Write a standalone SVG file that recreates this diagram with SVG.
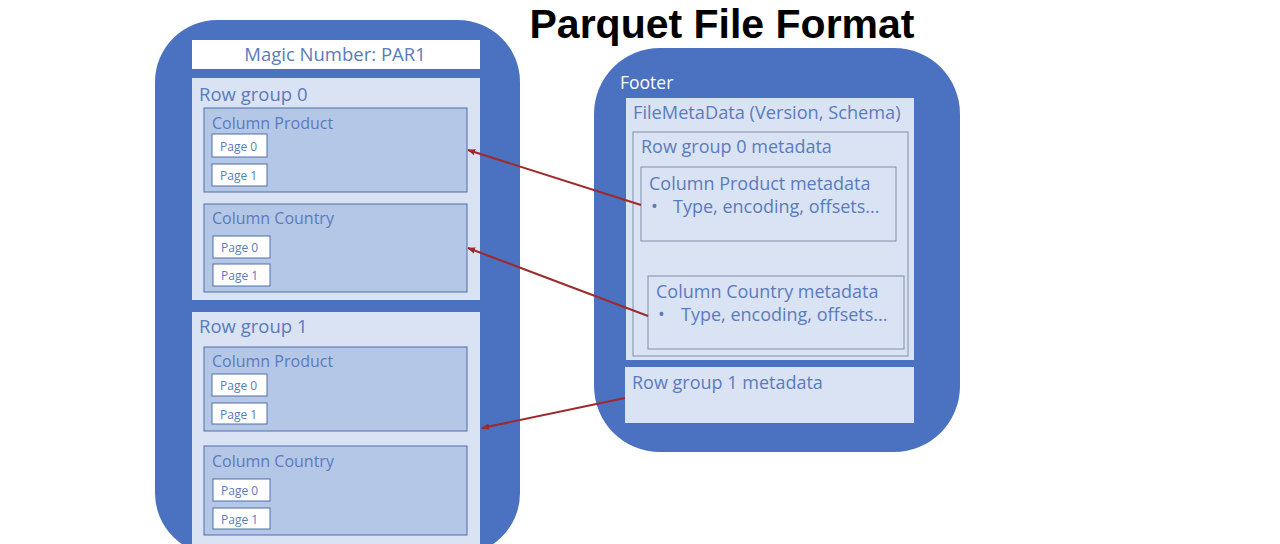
<svg xmlns="http://www.w3.org/2000/svg" width="1280" height="544" viewBox="0 0 1280 544">
<defs>
<marker id="ah" viewBox="0 0 10 10" refX="9" refY="5" markerWidth="8" markerHeight="8" orient="auto-start-reverse" markerUnits="userSpaceOnUse">
<path d="M0,1 L10,5 L0,9 z" fill="#9e2a2b"/>
</marker>
<style>
.cont{fill:#4a72c0}
.light{fill:#dae3f3}
.col{fill:#b4c7e7;stroke:#4f6ea8;stroke-width:1}
.page{fill:#fff;stroke:#4f6ea8;stroke-width:1}
.meta{fill:#dae3f3;stroke:#7f8fa8;stroke-width:1}
.t{font-family:"Open Sans","Noto Sans","Liberation Sans",sans-serif;fill:#5a7bbd}
.h{font-size:18.5px}
.c{font-size:16px}
.p{font-size:12px}
.m{font-size:18px}
.conn{stroke:#9e2a2b;stroke-width:2;fill:none}
</style>
</defs>
<rect width="1280" height="544" fill="#fff"/>
<text x="722" y="38" text-anchor="middle" font-family="'Liberation Sans',Arial,sans-serif" font-weight="bold" font-size="41" fill="#000">Parquet File Format</text>

<g id="file">
<rect class="cont" x="155" y="20" width="365" height="535" rx="62"/>
</g>
<g id="magic">
<rect x="192" y="40" width="288" height="29" fill="#fff"/>
<text class="t h" x="335" y="61" text-anchor="middle">Magic Number: PAR1</text>
</g>
<g id="rowgroup0">
<rect class="light" x="192" y="78" width="288" height="222"/>
<text class="t h" x="199" y="101">Row group 0</text>
</g>
<g id="rg0-product">
<rect class="col" x="204" y="108" width="263" height="84"/>
<text class="t c" x="212" y="129">Column Product</text>
<rect class="page" x="212" y="134" width="55" height="23"/>
<text class="t p" x="220" y="151">Page 0</text>
<rect class="page" x="212" y="164" width="55" height="22"/>
<text class="t p" x="220" y="180">Page 1</text>
</g>
<g id="rg0-country">
<rect class="col" x="204" y="204" width="263" height="88"/>
<text class="t c" x="212" y="224">Column Country</text>
<rect class="page" x="213" y="236" width="57" height="22"/>
<text class="t p" x="221" y="252">Page 0</text>
<rect class="page" x="213" y="264" width="57" height="22"/>
<text class="t p" x="221" y="280">Page 1</text>
</g>
<g id="rowgroup1">
<rect class="light" x="192" y="312" width="288" height="240"/>
<text class="t h" x="199" y="333">Row group 1</text>
</g>
<g id="rg1-product">
<rect class="col" x="204" y="347" width="263" height="84"/>
<text class="t c" x="212" y="367">Column Product</text>
<rect class="page" x="212" y="374" width="55" height="22"/>
<text class="t p" x="220" y="390">Page 0</text>
<rect class="page" x="212" y="403" width="55" height="21"/>
<text class="t p" x="220" y="419">Page 1</text>
</g>
<g id="rg1-country">
<rect class="col" x="204" y="446" width="263" height="89"/>
<text class="t c" x="212" y="467">Column Country</text>
<rect class="page" x="213" y="479" width="57" height="22"/>
<text class="t p" x="221" y="495">Page 0</text>
<rect class="page" x="213" y="508" width="57" height="21"/>
<text class="t p" x="221" y="524">Page 1</text>
</g>

<g id="footer">
<rect class="cont" x="594" y="48" width="366" height="404" rx="66"/>
<text x="620" y="89" font-family="'Open Sans','Noto Sans','Liberation Sans',sans-serif" font-size="17.5" fill="#fff">Footer</text>
</g>
<g id="filemetadata">
<rect class="light" x="626" y="98" width="288" height="262"/>
<text class="t" x="633" y="119" font-size="18.2">FileMetaData (Version, Schema)</text>
</g>
<g id="rg0meta">
<rect class="meta" x="633" y="132" width="275" height="224"/>
<text class="t m" x="641" y="153">Row group 0 metadata</text>
</g>
<g id="prodmeta">
<rect class="meta" x="641" y="167" width="255" height="74"/>
<text class="t m" x="649" y="190">Column Product metadata</text>
<text class="t m" x="651" y="213">•</text>
<text class="t m" x="673" y="213">Type, encoding, offsets...</text>
</g>
<g id="countrymeta">
<rect class="meta" x="648" y="276" width="256" height="73"/>
<text class="t m" x="656" y="298">Column Country metadata</text>
<text class="t m" x="658" y="321">•</text>
<text class="t m" x="681" y="321">Type, encoding, offsets...</text>
</g>
<g id="rg1meta">
<rect class="light" x="625" y="367" width="289" height="56"/>
<text class="t m" x="632" y="389">Row group 1 metadata</text>
</g>

<g id="connectors">
<line class="conn" x1="641" y1="205" x2="468" y2="150" marker-end="url(#ah)"/>
<line class="conn" x1="648" y1="316" x2="468" y2="248" marker-end="url(#ah)"/>
<line class="conn" x1="625" y1="398" x2="482" y2="428" marker-end="url(#ah)"/>
</g>
</svg>
